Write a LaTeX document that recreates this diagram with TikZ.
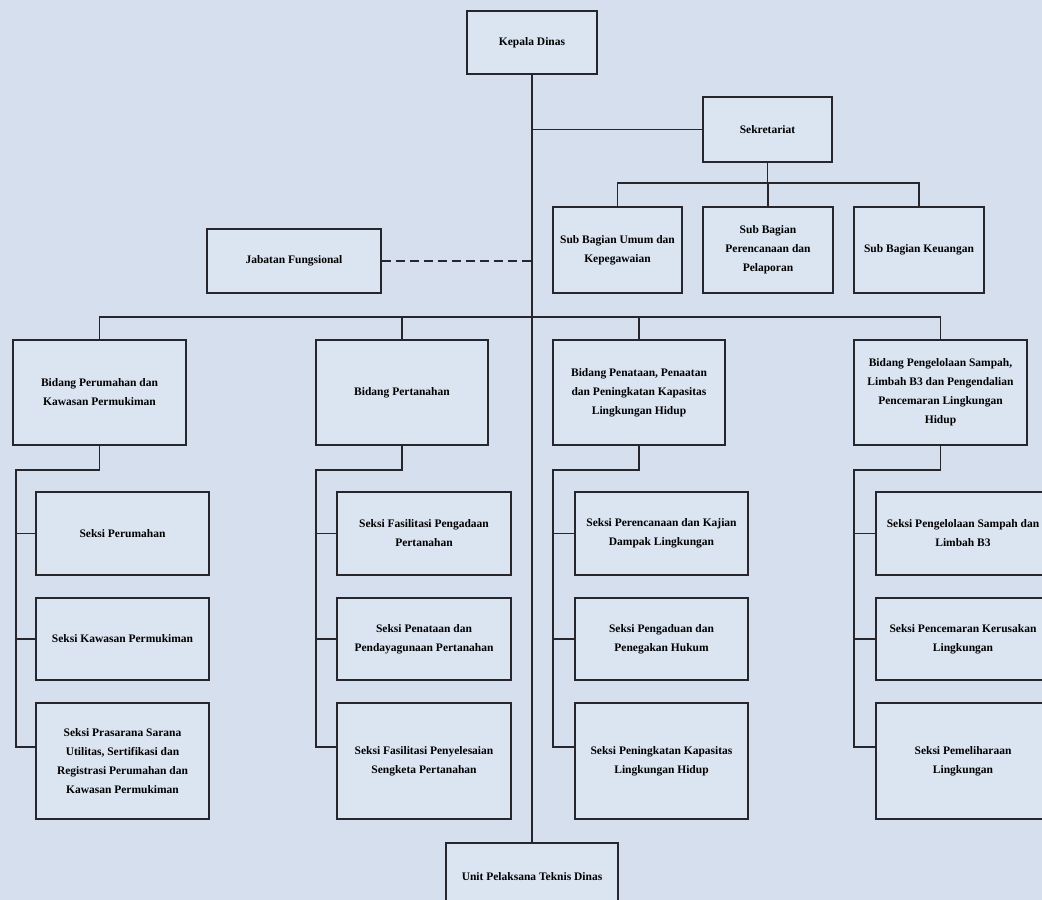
\documentclass[tikz,border=0pt]{standalone}
\usepackage{fontspec}
\setmainfont{Liberation Serif}
\definecolor{bg}{RGB}{213,223,237}
\definecolor{boxfill}{RGB}{219,228,241}
\definecolor{ln}{RGB}{38,38,44}
\newcommand\obox[6]{\node[box, minimum width={(#4-#2)*1pt}, minimum height={(#5-#3)*1pt}] (#1) at ({(#2+#4)/2},{(#3+#5)/2}) {#6};}
\begin{document}
\begin{tikzpicture}[x=1pt,y=-1pt,
  box/.style={draw=ln, line width=1.5pt, fill=boxfill, inner sep=0pt, align=center, text=black,
    font=\bfseries\fontsize{11.5}{19}\selectfont},
  conn/.style={draw=ln, line width=1.5pt},
  dotconn/.style={draw=ln, line width=2.6pt, dash pattern=on 9pt off 5pt}]
\fill[bg] (0,0) rectangle (1042,900);
\useasboundingbox (0,0) rectangle (1042,900);
% top
\obox{kd}{467}{11}{597}{74}{Kepala Dinas}
\obox{sek}{703}{97}{832}{162}{Sekretariat}
\obox{sb1}{553}{207}{682}{293}{Sub Bagian Umum dan\\Kepegawaian}
\obox{sb2}{703}{207}{833}{293}{Sub Bagian\\Perencanaan dan\\Pelaporan}
\obox{sb3}{854}{207}{984}{293}{Sub Bagian Keuangan}
\obox{jf}{207}{229}{381}{293}{Jabatan Fungsional}
% bidang
\obox{b1}{13}{340}{186}{445}{Bidang Perumahan dan\\Kawasan Permukiman}
\obox{b2}{316}{340}{488}{445}{Bidang Pertanahan}
\obox{b3}{553}{340}{725}{445}{Bidang Penataan, Penaatan\\dan Peningkatan Kapasitas\\Lingkungan Hidup}
\obox{b4}{854}{340}{1027}{445}{Bidang Pengelolaan Sampah,\\Limbah B3 dan Pengendalian\\Pencemaran Lingkungan\\Hidup}
% seksi col 1
\obox{s11}{36}{492}{209}{575}{Seksi Perumahan}
\obox{s12}{36}{598}{209}{680}{Seksi Kawasan Permukiman}
\obox{s13}{36}{703}{209}{819}{Seksi Prasarana Sarana\\Utilitas, Sertifikasi dan\\Registrasi Perumahan dan\\Kawasan Permukiman}
% seksi col 2
\obox{s21}{337}{492}{511}{575}{Seksi Fasilitasi Pengadaan\\Pertanahan}
\obox{s22}{337}{598}{511}{680}{Seksi Penataan dan\\Pendayagunaan Pertanahan}
\obox{s23}{337}{703}{511}{819}{Seksi Fasilitasi Penyelesaian\\Sengketa Pertanahan}
% seksi col 3
\obox{s31}{575}{492}{748}{575}{Seksi Perencanaan dan Kajian\\Dampak Lingkungan}
\obox{s32}{575}{598}{748}{680}{Seksi Pengaduan dan\\Penegakan Hukum}
\obox{s33}{575}{703}{748}{819}{Seksi Peningkatan Kapasitas\\Lingkungan Hidup}
% seksi col 4
\obox{s41}{876}{492}{1050}{575}{Seksi Pengelolaan Sampah dan\\Limbah B3}
\obox{s42}{876}{598}{1050}{680}{Seksi Pencemaran Kerusakan\\Lingkungan}
\obox{s43}{876}{703}{1050}{819}{Seksi Pemeliharaan\\Lingkungan}
% UPT
\obox{upt}{446}{843}{618}{910}{Unit Pelaksana Teknis Dinas}
% connectors
\draw[conn] (kd.south) -- (upt.north);
\draw[conn] (sek.west) -- (sek.west -| kd.south);
\coordinate (sbar) at (768,183);
\draw[conn] (sek.south) -- (sek.south |- sbar);
\draw[conn] (sb1.north) -- (sb1.north |- sbar) -- (sb3.north |- sbar) -- (sb3.north);
\draw[conn] (sb2.north) -- (sb2.north |- sbar);
\draw[dotconn] (jf.east) -- (jf.east -| kd.south);
\coordinate (bbar) at (532,317);
\draw[conn] (b1.north) -- (b1.north |- bbar) -- (b4.north |- bbar) -- (b4.north);
\draw[conn] (b2.north) -- (b2.north |- bbar);
\draw[conn] (b3.north) -- (b3.north |- bbar);
% column brackets
\coordinate (c1) at (16,470);
\coordinate (c2) at (316,470);
\coordinate (c3) at (553,470);
\coordinate (c4) at (854,470);
\foreach \i in {1,2,3,4}{
  \coordinate (a\i) at ([yshift=14pt]s\i3.west);
  \draw[conn] (b\i.south) |- (c\i) -- (c\i |- a\i) -- (a\i);
  \draw[conn] (s\i1.west) -- (s\i1.west -| c\i);
  \draw[conn] (s\i2.west) -- (s\i2.west -| c\i);
}
\end{tikzpicture}
\end{document}
